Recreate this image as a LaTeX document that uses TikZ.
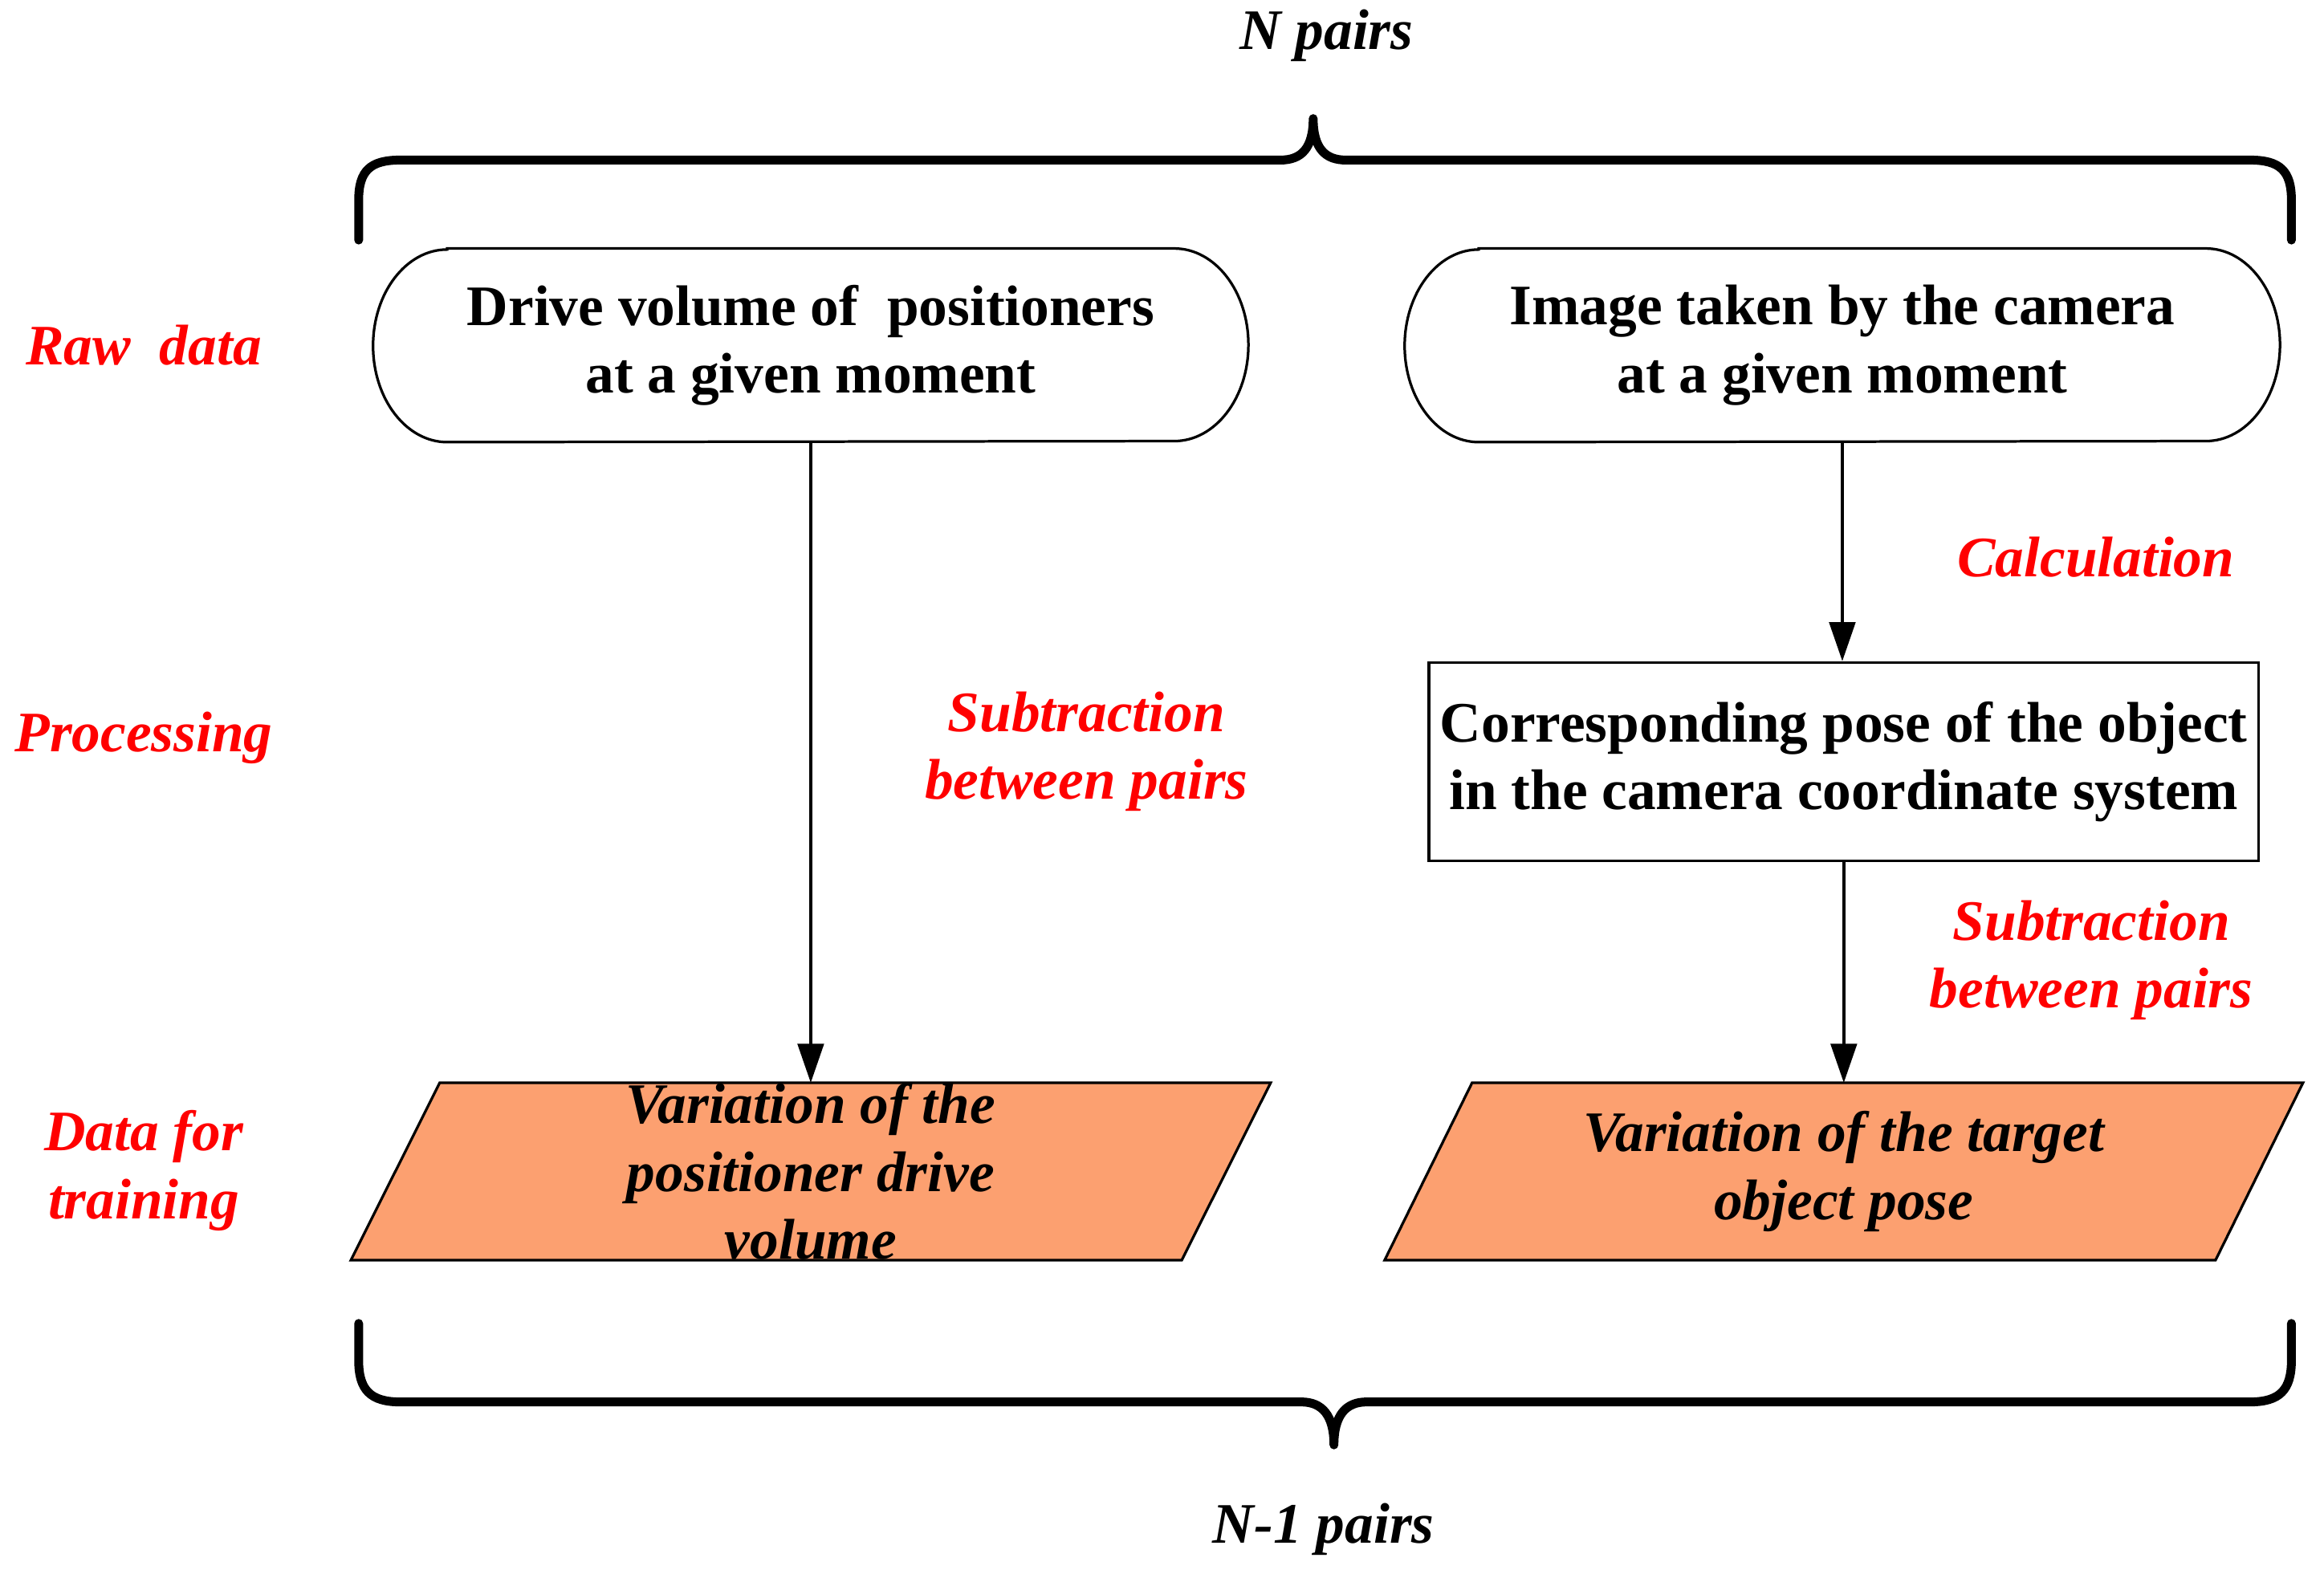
\documentclass[tikz,border=0pt]{standalone}
\usepackage{fontspec}
\setmainfont{Liberation Serif}
\usetikzlibrary{arrows.meta,backgrounds}
\definecolor{paraorange}{RGB}{252,160,112}
\begin{document}
\begin{tikzpicture}[x=0.02cm,y=-0.02cm,
  every node/.style={font=\fontsize{22}{26}\selectfont\bfseries, align=center, inner sep=0pt},
  redlab/.style={text=red, font=\fontsize{22}{26}\selectfont\bfseries\itshape},
  pairlab/.style={font=\fontsize{22}{26}\selectfont\bfseries\itshape},
  pill/.style={minimum width=11.8cm, minimum height=2.6cm},
  procbox/.style={draw, line width=1pt, minimum width=11.2cm, minimum height=2.68cm},
  databox/.style={minimum width=11.2cm, minimum height=2.38cm, font=\fontsize{22}{26}\selectfont\bfseries\itshape},
  flow/.style={line width=1.2pt, -{Triangle[length=15pt,width=10pt]}},
  brace/.style={line width=3.4pt, line cap=round, line join=round},
  outline/.style={draw, line width=1pt},
]
\useasboundingbox (0,0) rectangle (1568,1062);

% labels on top / bottom
\node[pairlab] (npairs) at (895,24) {N pairs};
\node[pairlab] (nm1pairs) at (893,1032) {N-1 pairs};

% braces
\draw[brace] (242,162) -- (242,135) .. controls (242,115) and (250,108) .. (270,108)
  -- (864,108) .. controls (878,108) and (886,100) .. (886,80)
  .. controls (886,100) and (894,108) .. (908,108)
  -- (1518,108) .. controls (1538,108) and (1546,115) .. (1546,135) -- (1546,162);
\draw[brace] (242,893) -- (242,918) .. controls (242,938) and (250,946) .. (270,946)
  -- (878,946) .. controls (892,946) and (900,955) .. (900,975)
  .. controls (900,955) and (908,946) .. (922,946)
  -- (1518,946) .. controls (1538,946) and (1546,938) .. (1546,918) -- (1546,893);

% row labels
\node[redlab] (raw) at (97,233) {Raw\ \ data};
\node[redlab] (proc) at (97,498) {Processing};
\node[redlab] (train) at (97,790) {Data for\\training};

% raw data boxes
\node[pill] (r1) at (547,233) {Drive volume of\ \ positioners\\at a given moment};
\node[pill] (r2) at (1243,233) {Image taken by the camera\\at a given moment};
\foreach \n in {r1,r2}{
  \draw[outline] ([xshift=1cm]\n.north west) -- ([xshift=-1cm]\n.north east)
    arc[start angle=90, end angle=-90, x radius=1cm, y radius=1.3cm]
    -- ([xshift=1cm]\n.south west)
    arc[start angle=270, end angle=90, x radius=1cm, y radius=1.3cm] -- cycle;
}

% processing box
\node[procbox] (c1) at (1244,514) {Corresponding pose of the object\\in the camera coordinate system};

% data boxes
\node[databox] (p1) at (547,790.5) {Variation of the\\positioner drive\\volume};
\node[databox] (p2) at (1244,790.5) {Variation of the target\\object pose};
\begin{scope}[on background layer]
  \fill[paraorange] ([xshift=0.6cm]p1.north west) -- ([xshift=0.6cm]p1.north east)
    -- ([xshift=-0.6cm]p1.south east) -- ([xshift=-0.6cm]p1.south west) -- cycle;
  \fill[paraorange] ([xshift=0.59cm]p2.north west) -- ([xshift=0.59cm]p2.north east)
    -- ([xshift=-0.59cm]p2.south east) -- ([xshift=-0.59cm]p2.south west) -- cycle;
\end{scope}
\draw[line width=1pt] ([xshift=0.6cm]p1.north west) -- ([xshift=0.6cm]p1.north east)
    -- ([xshift=-0.6cm]p1.south east) -- ([xshift=-0.6cm]p1.south west) -- cycle;
\draw[line width=1pt] ([xshift=0.59cm]p2.north west) -- ([xshift=0.59cm]p2.north east)
    -- ([xshift=-0.59cm]p2.south east) -- ([xshift=-0.59cm]p2.south west) -- cycle;

% connectors
\draw[flow] (r1.south) -- (p1.north);
\draw[flow] (r2.south) -- (r2.south |- c1.north);
\draw[flow] (c1.south) -- (c1.south |- p2.north);

% connector labels
\node[redlab] (sub1) at (733,507) {Subtraction\\between pairs};
\node[redlab] (calc) at (1414,376) {Calculation};
\node[redlab] (sub2) at (1411,648) {Subtraction\\between pairs};
\end{tikzpicture}
\end{document}
